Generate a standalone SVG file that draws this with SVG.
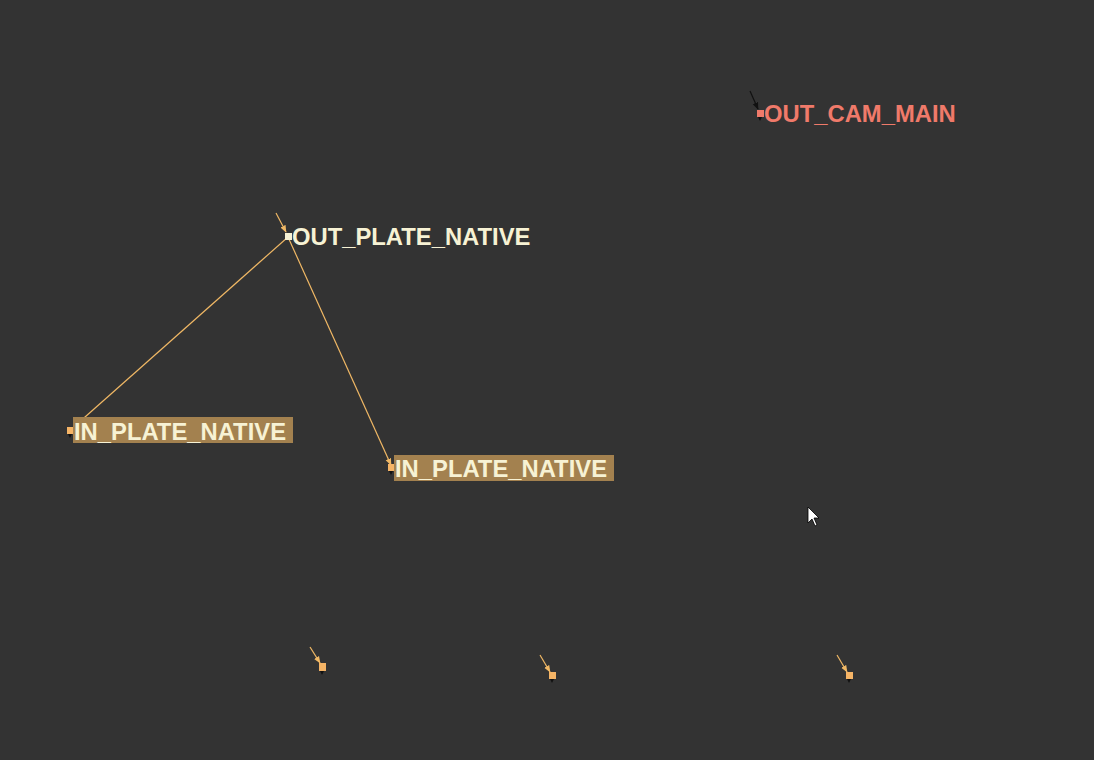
<svg xmlns="http://www.w3.org/2000/svg" width="1094" height="760" viewBox="0 0 1094 760">
<defs>
<style>
.lbl{font-family:"Liberation Sans",Arial,sans-serif;font-weight:bold;font-size:23.8px}
.cream{fill:#f7f2d4}
.wire{stroke:#f0b865;stroke-width:1.2;fill:none}
.port{fill:#f5b466}
.tri{fill:#111}
</style>
<marker id="ah" viewBox="0 0 10 10" refX="9" refY="5" markerWidth="6" markerHeight="6" orient="auto"><path d="M0,1 L10,5 L0,9 z" fill="#f0b865"/></marker>
<marker id="ahk" viewBox="0 0 10 10" refX="9" refY="5" markerWidth="6" markerHeight="6" orient="auto"><path d="M0,1 L10,5 L0,9 z" fill="#111"/></marker>
</defs>
<rect width="1094" height="760" fill="#333333"/>
<g id="connectors">
<line class="wire" x1="288" y1="237" x2="76" y2="425"/>
<line class="wire" x1="288" y1="237" x2="391" y2="465" marker-end="url(#ah)"/>
<line class="wire" x1="276" y1="213" x2="286" y2="232" marker-end="url(#ah)"/>
<line x1="750" y1="91" x2="758" y2="109" stroke="#111" stroke-width="1.2" marker-end="url(#ahk)"/>
<line class="wire" x1="310" y1="647" x2="320" y2="663" marker-end="url(#ah)"/>
<line class="wire" x1="540" y1="655" x2="550" y2="672" marker-end="url(#ah)"/>
<line class="wire" x1="837" y1="655" x2="847" y2="672" marker-end="url(#ah)"/>
</g>
<g id="out_cam_main">
<rect x="757" y="110" width="7" height="7" fill="#f07a6a"/>
<path class="tri" d="M758,117 L762,117 L760,121 z"/>
<text class="lbl" x="764" y="122" fill="#f07a6a">OUT_CAM_MAIN</text>
</g>
<g id="out_plate_native">
<rect x="285" y="233" width="7" height="7" fill="#f7f2d4"/>
<text class="lbl cream" x="292" y="245">OUT_PLATE_NATIVE</text>
</g>
<g id="in_plate_native_1">
<rect x="73" y="417" width="220" height="26" fill="#a3814f"/>
<rect class="port" x="67" y="427" width="6" height="7"/>
<path class="tri" d="M68,434 L72,434 L70,438 z"/>
<text class="lbl cream" x="74" y="440">IN_PLATE_NATIVE</text>
</g>
<g id="in_plate_native_2">
<rect x="394" y="455" width="220" height="26" fill="#a3814f"/>
<rect class="port" x="388" y="464" width="6" height="7"/>
<path class="tri" d="M389,471 L393,471 L391,475 z"/>
<text class="lbl cream" x="395" y="477">IN_PLATE_NATIVE</text>
</g>
<g id="port_a">
<rect class="port" x="319" y="663" width="7" height="8"/>
<path class="tri" d="M320,671 L324,671 L322,675 z"/>
</g>
<g id="port_b">
<rect class="port" x="549" y="672" width="7" height="7"/>
<path class="tri" d="M550,679 L554,679 L552,683 z"/>
</g>
<g id="port_c">
<rect class="port" x="846" y="672" width="7" height="7"/>
<path class="tri" d="M847,679 L851,679 L849,683 z"/>
</g>
<path d="M808,507 L808,523 L812,519 L815,526 L817,525 L814,518 L819,518 z" fill="#fff" stroke="#000" stroke-width="0.8"/>
</svg>
